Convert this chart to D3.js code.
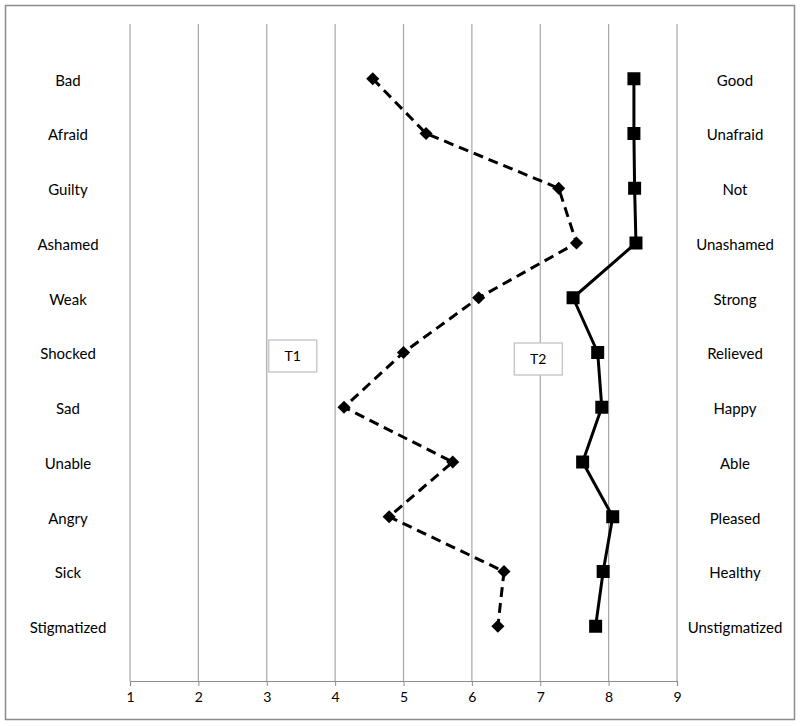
<!DOCTYPE html>
<html>
<head>
<meta charset="utf-8">
<script src="https://cdn.jsdelivr.net/npm/d3@7"></script>
<style>
  body { margin: 0; background: #fff; }
  text { font-family: Lato, "Open Sans", sans-serif; fill: #000; }
</style>
</head>
<body>
<div id="chart"></div>
<script>
// left (negative) and right (positive) labels, top to bottom
var negLabels = ["Bad", "Afraid", "Guilty", "Ashamed", "Weak", "Shocked", "Sad", "Unable", "Angry", "Sick", "Stigmatized"];
var posLabels = ["Good", "Unafraid", "Not", "Unashamed", "Strong", "Relieved", "Happy", "Able", "Pleased", "Healthy", "Unstigmatized"];
var t1Values = [4.55, 5.33, 7.27, 7.53, 6.10, 5.00, 4.13, 5.72, 4.79, 6.47, 6.38];
var t2Values = [8.37, 8.37, 8.38, 8.40, 7.48, 7.84, 7.90, 7.62, 8.06, 7.92, 7.81];
var xTicks = [1, 2, 3, 4, 5, 6, 7, 8, 9];
var seriesLabels = ["T1", "T2"];

var width = 800, height = 726;

var svg = d3.select("#chart").append("svg")
    .attr("width", width)
    .attr("height", height);

// outer frame
svg.append("rect")
    .attr("x", 5.5).attr("y", 5.5)
    .attr("width", 789).attr("height", 714)
    .attr("fill", "#fff")
    .attr("stroke", "#8c8c8c")
    .attr("stroke-width", 1.5);

var x = d3.scaleLinear().domain([1, 9]).range([130, 677]);
// categories sit at 11..1, axis spans 0..12
var y = d3.scaleLinear().domain([0, 12]).range([681, 24]);

function yPos(i) { return y(negLabels.length - i); }

// vertical gridlines
svg.append("g").selectAll("line")
    .data(xTicks)
    .enter()
    .append("line")
    .attr("x1", function(d) { return x(d); })
    .attr("x2", function(d) { return x(d); })
    .attr("y1", y(12))
    .attr("y2", y(0))
    .attr("stroke", "#a6a6a6")
    .attr("stroke-width", 1.2);

// bottom axis
var axis = svg.append("g")
    .attr("transform", "translate(0," + y(0) + ")")
    .call(d3.axisBottom(x).tickValues(xTicks).tickSize(5).tickPadding(6).tickFormat(d3.format("d")));
axis.select(".domain").attr("stroke", "#8c8c8c").attr("stroke-width", 1.2);
axis.selectAll(".tick line").attr("stroke", "#8c8c8c");
axis.selectAll("text")
    .style("font-family", "Lato, 'Open Sans', sans-serif")
    .style("font-size", "14px")
    .attr("fill", "#000");

// category labels
svg.append("g").selectAll("text")
    .data(negLabels)
    .enter()
    .append("text")
    .attr("x", 68)
    .attr("y", function(d, i) { return yPos(i); })
    .attr("dy", "0.45em")
    .attr("text-anchor", "middle")
    .style("font-size", "15px")
    .text(function(d) { return d; });

svg.append("g").selectAll("text")
    .data(posLabels)
    .enter()
    .append("text")
    .attr("x", 735)
    .attr("y", function(d, i) { return yPos(i); })
    .attr("dy", "0.45em")
    .attr("text-anchor", "middle")
    .style("font-size", "15px")
    .text(function(d) { return d; });

var line = d3.line()
    .x(function(d) { return x(d); })
    .y(function(d, i) { return yPos(i); });

// T1 dashed
svg.append("path")
    .datum(t1Values)
    .attr("d", line)
    .attr("fill", "none")
    .attr("stroke", "#000")
    .attr("stroke-width", 3)
    .attr("stroke-dasharray", "10,6");

svg.append("g").selectAll("path")
    .data(t1Values)
    .enter()
    .append("path")
    .attr("d", d3.symbol().type(d3.symbolDiamond2).size(110))
    .attr("transform", function(d, i) { return "translate(" + x(d) + "," + yPos(i) + ")"; })
    .attr("fill", "#000");

// T2 solid
svg.append("path")
    .datum(t2Values)
    .attr("d", line)
    .attr("fill", "none")
    .attr("stroke", "#000")
    .attr("stroke-width", 3);

svg.append("g").selectAll("rect")
    .data(t2Values)
    .enter()
    .append("rect")
    .attr("x", function(d) { return x(d) - 6.5; })
    .attr("y", function(d, i) { return yPos(i) - 6.5; })
    .attr("width", 13)
    .attr("height", 13)
    .attr("fill", "#000");

// series label boxes
var boxX = [x(3.03), x(6.62)];
var boxY = [340, 343];
var boxes = svg.append("g").selectAll("g")
    .data(seriesLabels)
    .enter()
    .append("g")
    .attr("transform", function(d, i) { return "translate(" + boxX[i] + "," + boxY[i] + ")"; });

boxes.append("rect")
    .attr("width", 48)
    .attr("height", 32)
    .attr("fill", "#fff")
    .attr("stroke", "#bfbfbf")
    .attr("stroke-width", 1.2);

boxes.append("text")
    .attr("x", 24)
    .attr("y", 16)
    .attr("dy", "0.35em")
    .attr("text-anchor", "middle")
    .style("font-size", "14px")
    .text(function(d) { return d; });
</script>
</body>
</html>
